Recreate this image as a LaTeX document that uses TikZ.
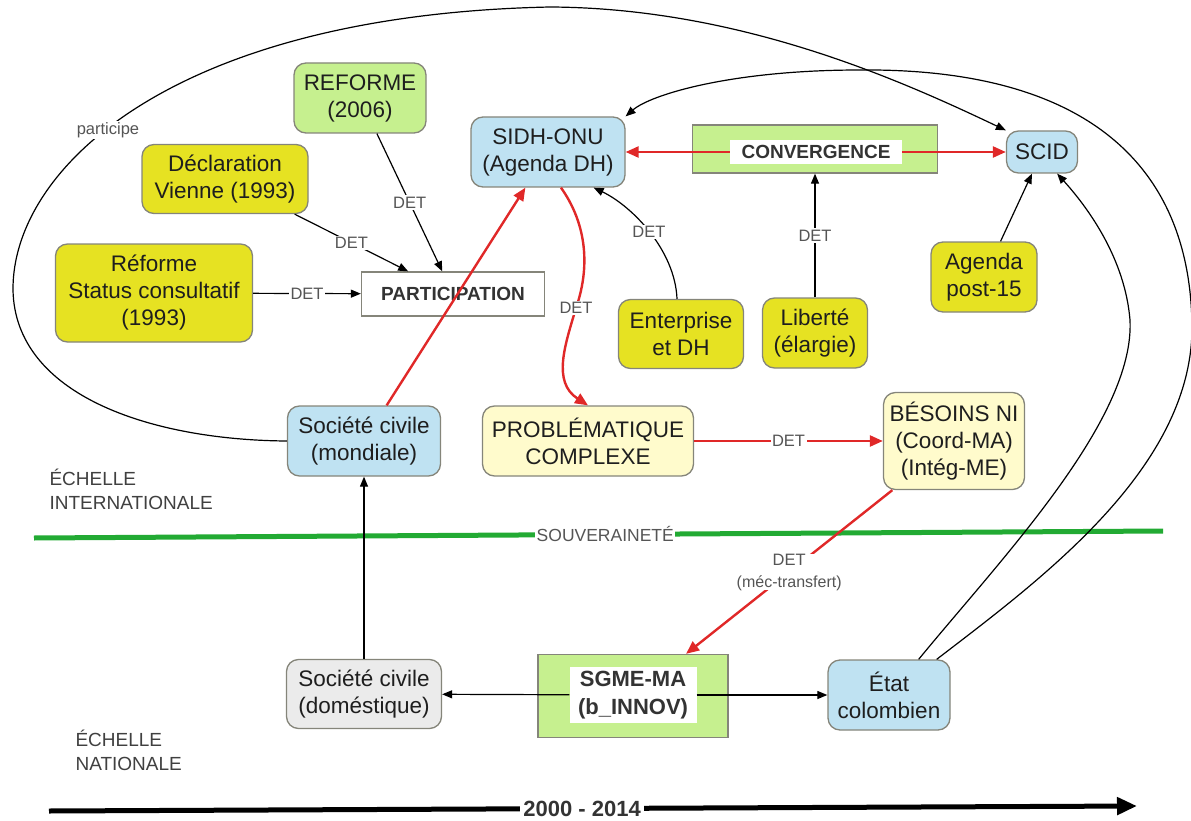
\documentclass[tikz,border=0pt]{standalone}
\usepackage{fontspec}
\setmainfont{Liberation Sans}
\usetikzlibrary{arrows.meta}
\definecolor{boxyellow}{HTML}{E6E222}
\definecolor{boxgreen}{HTML}{C6F08F}
\definecolor{boxblue}{HTML}{BFE2F2}
\definecolor{boxpale}{HTML}{FFFBCC}
\definecolor{boxgray}{HTML}{EBEBEB}
\definecolor{edgered}{HTML}{E02828}
\definecolor{linegreen}{HTML}{22AA33}
\definecolor{bordergray}{HTML}{85857A}
\definecolor{labelgray}{HTML}{555555}
\definecolor{textdark}{HTML}{1E1E1E}
\begin{document}
\begin{tikzpicture}[x=1pt,y=-1pt,
  box/.style={draw=bordergray, line width=1.3pt, rounded corners=12pt, align=center,
    inner sep=0pt, text=textdark, font=\fontsize{22.5}{27}\selectfont},
  sqbox/.style={draw=bordergray, line width=1.3pt, inner sep=0pt},
  innerlbl/.style={fill=white, inner sep=0pt, align=center, text=black!80},
  lbl/.style={fill=white, inner sep=1.5pt, text=labelgray, font=\fontsize{16.5}{19}\selectfont},
  conn/.style={line width=1.2pt, draw=black, -{Triangle[length=10pt,width=8pt]}},
  redconn/.style={line width=2.4pt, draw=edgered, -{Triangle[length=13pt,width=11pt]}},
  scalelbl/.style={text=black!75, align=left, font=\fontsize{19}{24}\selectfont}
]
\useasboundingbox (0,0) rectangle (1191,821);

% ---------- nodes ----------
\node[box, fill=boxgreen, minimum width=132pt, minimum height=70pt] (reforme) at (360,98) {REFORME\\(2006)};
\node[box, fill=boxyellow, minimum width=166pt, minimum height=69pt] (declaration) at (225,179) {Déclaration\\Vienne (1993)};
\node[box, fill=boxyellow, minimum width=197pt, minimum height=98pt] (status) at (154,293) {Réforme\\Status consultatif\\(1993)};
\node[sqbox, fill=white, minimum width=183pt, minimum height=44pt, text=black!80,
  font=\bfseries\fontsize{19}{22}\selectfont] (participation) at (453,294) {PARTICIPATION};
\node[box, fill=boxblue, minimum width=154pt, minimum height=70pt] (sidh) at (548,152) {SIDH-ONU\\(Agenda DH)};
\node[sqbox, fill=boxgreen, minimum width=245pt, minimum height=48pt] (convergence) at (815,149) {};
\node[innerlbl, minimum width=172pt, minimum height=24pt,
  font=\bfseries\fontsize{19}{21}\selectfont] (convlabel) at (816,152) {CONVERGENCE};
\node[box, fill=boxblue, minimum width=71pt, minimum height=42pt] (scid) at (1042,152) {SCID};
\node[box, fill=boxyellow, minimum width=125pt, minimum height=69pt] (enterprise) at (681,334) {Enterprise\\et DH};
\node[box, fill=boxyellow, minimum width=105pt, minimum height=70pt] (liberte) at (815,333) {Liberté\\(élargie)};
\node[box, fill=boxyellow, minimum width=106pt, minimum height=70pt] (agenda) at (984,277) {Agenda\\post-15};
\node[box, fill=boxblue, minimum width=153pt, minimum height=70pt] (mondiale) at (364,441) {Société civile\\(mondiale)};
\node[box, fill=boxpale, minimum width=211pt, minimum height=70pt] (probleme) at (588,441) {PROBLÉMATIQUE\\COMPLEXE};
\node[box, fill=boxpale, minimum width=141pt, minimum height=97pt] (besoins) at (954,441) {BÉSOINS NI\\(Coord-MA)\\(Intég-ME)};
\node[box, fill=boxgray, minimum width=155pt, minimum height=69pt] (domestique) at (364,694) {Société civile\\(doméstique)};
\node[sqbox, fill=boxgreen, minimum width=190pt, minimum height=83pt] (sgme) at (633,696) {};
\node[innerlbl, minimum width=127pt, minimum height=56pt,
  font=\bfseries\fontsize{22}{28}\selectfont] (sgmelabel) at (633,695) {SGME-MA\\(b\_INNOV)};
\node[box, fill=boxblue, minimum width=122pt, minimum height=70pt] (etat) at (889,695) {État\\colombien};

\node[scalelbl, anchor=west] (echint) at (46,489) {ÉCHELLE\\INTERNATIONALE};
\node[scalelbl, anchor=west] (echnat) at (72,750) {ÉCHELLE\\NATIONALE};

% ---------- souveraineté line ----------
\coordinate (souvL) at (34,538);
\coordinate (souvR) at (1163,531);
\draw[linegreen, line width=5pt] (souvL) -- node[pos=0.506, lbl, font=\fontsize{17.5}{20}\selectfont] (souvlbl) {SOUVERAINETÉ} (souvR);

% ---------- timeline ----------
\coordinate (timeL) at (49,811);
\coordinate (timeR) at (1137,806);
\draw[line width=5pt, -{Triangle[length=20pt,width=17pt]}] (timeL) -- node[pos=0.49, fill=white, inner sep=3pt, text=black!80,
  font=\bfseries\fontsize{22}{24}\selectfont] (period) {2000 - 2014} (timeR);

% ---------- black connectors ----------
\draw[conn] (reforme) -- node[lbl] (l1) {DET} (participation);
\draw[conn] (declaration) -- node[lbl] (l2) {DET} (participation);
\draw[conn] (status) -- node[lbl] (l3) {DET} (participation);
\draw[conn] (liberte) -- node[lbl] (l4) {DET} (convergence);
\draw[conn] (agenda) -- (scid);
\draw[conn] (domestique) -- (mondiale);
\draw[conn] (sgmelabel) -- (domestique);
\draw[conn] (sgmelabel) -- (etat);
\coordinate (entTop) at ([xshift=-4pt]enterprise.north);
\draw[conn] (entTop)
   .. controls (675,250) and (632,206) .. node[lbl, pos=0.5] (l5) {DET} (sidh.-38);

% participe loop
\coordinate (loopL) at (13,290);
\coordinate (loopT) at (550,7);
\draw[conn] (mondiale.west) .. controls (150,440) and (15,395) .. (loopL)
   .. controls (12,170) and (170,15) .. (loopT)
   .. controls (740,8) and (900,80) .. (scid.north west);
\node[lbl, font=\fontsize{16.5}{19}\selectfont] (participe) at (108,130) {participe};

% Etat -> SIDH outer loop
\coordinate (outR) at (1192,330);
\coordinate (outT) at (860,70);
\coordinate (etatA) at ([xshift=-14pt]etat.north east);
\draw[conn] (etatA)
   .. controls (1040,580) and (1190,470) .. (outR)
   .. controls (1192,160) and (1080,68) .. (outT)
   .. controls (730,70) and (650,95) .. (sidh.north east);

% Etat -> SCID inner loop
\coordinate (inR) at (1130,320);
\coordinate (etatB) at ([xshift=-32pt]etat.north east);
\draw[conn] (etatB)
   .. controls (1000,560) and (1135,420) .. (inR)
   .. controls (1125,260) and (1090,210) .. (scid.-55);

% ---------- red connectors ----------
\draw[redconn] (convlabel) -- (sidh);
\draw[redconn] (convlabel) -- (scid);
\draw[redconn] (mondiale) -- (sidh);
\draw[redconn] (probleme) -- node[lbl] (l6) {DET} (besoins);
\draw[redconn] (besoins) -- node[lbl, align=center, inner sep=0pt, text=labelgray,
   font=\fontsize{16.5}{22}\selectfont] (l7) {DET\\{\fontsize{16}{18}\selectfont(méc-transfert)}} (sgme);
\coordinate (redmid) at (576,308);
\draw[redconn] (sidh.-70) .. controls (584,220) and (592,262) .. (redmid)
   .. controls (565,345) and (552,382) .. (probleme.north);
\node[lbl] (l8) at (576,308) {DET};
\end{tikzpicture}
\end{document}
